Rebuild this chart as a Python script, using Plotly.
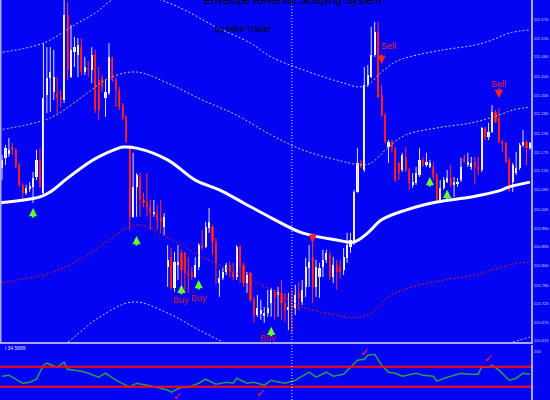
import plotly.graph_objects as go

# ---------------- candle data (price) ----------------
open_ = [
111.129,111.159,111.171,111.191,111.183,111.138,111.079,111.055,111.067,111.073,
111.102,111.153,111.055,111.346,111.396,111.355,111.352,111.340,111.331,111.583,
111.399,111.474,111.465,111.488,111.414,111.426,111.420,111.465,111.390,111.396,
111.337,111.352,111.456,111.390,111.361,111.316,111.281,111.191,110.984,111.073,
111.102,111.034,111.028,111.013,110.992,110.995,110.981,110.954,110.835,110.865,
110.773,110.841,110.877,110.877,110.817,110.820,110.805,110.835,110.900,110.894,
110.951,110.954,110.909,110.787,110.802,110.820,110.841,110.820,110.805,110.894,
110.841,110.787,110.817,110.737,110.692,110.695,110.689,110.698,110.728,110.761,
110.752,110.758,110.728,110.707,110.722,110.713,110.758,110.731,110.776,110.832,
110.865,110.776,110.805,110.835,110.856,110.871,110.805,110.841,110.835,110.826,
110.862,110.894,110.906,111.058,111.144,111.123,111.376,111.399,111.465,111.533,
111.346,111.286,111.191,111.206,111.188,111.144,111.123,111.162,111.123,111.079,
111.084,111.108,111.153,111.138,111.132,111.132,111.108,111.034,111.070,111.087,
111.099,111.079,111.084,111.093,111.159,111.138,111.132,111.147,111.132,111.123,
111.248,111.221,111.236,111.295,111.278,111.206,111.203,111.153,111.087,111.114,
111.129,111.197,111.206,111.188]
high = [
111.168,111.197,111.218,111.203,111.188,111.144,111.084,111.079,111.087,111.117,
111.183,111.188,111.500,111.488,111.488,111.480,111.399,111.361,111.640,111.622,
111.554,111.518,111.515,111.515,111.459,111.448,111.488,111.480,111.429,111.405,
111.390,111.500,111.459,111.399,111.370,111.322,111.286,111.197,111.174,111.114,
111.114,111.055,111.114,111.034,111.034,111.019,111.034,110.995,110.900,110.891,
110.880,110.900,110.886,110.880,110.865,110.835,110.865,110.906,110.945,110.969,
111.010,110.960,110.921,110.826,110.832,110.847,110.850,110.847,110.900,110.900,
110.847,110.820,110.820,110.746,110.752,110.737,110.716,110.767,110.773,110.767,
110.776,110.796,110.758,110.758,110.767,110.782,110.790,110.796,110.862,110.900,
110.924,110.856,110.847,110.886,110.886,110.880,110.865,110.856,110.856,110.891,
110.936,110.936,111.064,111.188,111.153,111.429,111.435,111.548,111.563,111.563,
111.376,111.292,111.212,111.212,111.191,111.147,111.174,111.191,111.129,111.114,
111.132,111.188,111.162,111.174,111.153,111.147,111.114,111.093,111.102,111.123,
111.138,111.102,111.099,111.159,111.168,111.174,111.162,111.162,111.162,111.251,
111.251,111.263,111.316,111.301,111.307,111.212,111.206,111.159,111.144,111.177,
111.203,111.242,111.212,111.206]
low = [
111.093,111.138,111.162,111.168,111.129,111.073,111.034,111.049,111.058,111.025,
111.093,111.070,111.049,111.292,111.295,111.331,111.292,111.310,111.322,111.390,
111.396,111.429,111.399,111.405,111.405,111.399,111.381,111.292,111.272,111.355,
111.281,111.346,111.384,111.310,111.301,111.272,111.203,110.945,110.981,110.984,
110.984,111.013,110.984,110.945,110.984,110.945,110.936,110.930,110.776,110.767,
110.761,110.796,110.767,110.758,110.758,110.796,110.802,110.826,110.886,110.891,
110.936,110.871,110.782,110.746,110.796,110.811,110.805,110.796,110.796,110.787,
110.776,110.758,110.731,110.669,110.687,110.678,110.669,110.687,110.687,110.678,
110.687,110.678,110.672,110.648,110.639,110.692,110.707,110.722,110.746,110.776,
110.728,110.746,110.743,110.805,110.847,110.796,110.787,110.767,110.802,110.811,
110.847,110.877,110.900,111.055,111.129,111.117,111.370,111.396,111.459,111.337,
111.281,111.203,111.144,111.174,111.087,111.093,111.117,111.117,111.064,111.070,
111.079,111.102,111.132,111.132,111.129,111.093,111.028,111.028,111.064,111.084,
111.073,111.043,111.073,111.087,111.144,111.132,111.123,111.079,111.108,111.117,
111.212,111.212,111.233,111.263,111.203,111.177,111.144,111.058,111.058,111.108,
111.123,111.191,111.138,111.183]
close = [
111.153,111.188,111.183,111.183,111.132,111.079,111.055,111.070,111.076,111.099,
111.153,111.073,111.337,111.396,111.414,111.399,111.337,111.331,111.583,111.420,
111.480,111.488,111.494,111.414,111.429,111.420,111.465,111.301,111.301,111.370,
111.355,111.459,111.390,111.361,111.310,111.278,111.206,110.984,111.073,111.108,
111.034,111.025,111.013,110.995,110.998,110.975,110.969,110.984,110.856,110.773,
110.850,110.850,110.826,110.817,110.811,110.805,110.841,110.900,110.891,110.954,
110.969,110.909,110.847,110.802,110.820,110.841,110.820,110.805,110.894,110.835,
110.787,110.811,110.737,110.692,110.713,110.707,110.698,110.713,110.767,110.743,
110.761,110.728,110.707,110.716,110.713,110.752,110.743,110.767,110.835,110.850,
110.776,110.835,110.832,110.856,110.877,110.805,110.841,110.820,110.820,110.865,
110.900,110.915,111.058,111.144,111.132,111.376,111.405,111.465,111.533,111.340,
111.286,111.206,111.206,111.188,111.093,111.114,111.168,111.123,111.084,111.087,
111.114,111.153,111.138,111.147,111.144,111.102,111.034,111.070,111.093,111.099,
111.079,111.087,111.087,111.132,111.147,111.147,111.144,111.132,111.123,111.248,
111.221,111.236,111.295,111.266,111.206,111.203,111.147,111.064,111.138,111.129,
111.197,111.206,111.188,111.203]

# ---------------- moving average & envelopes (bar index, price) ----------------
ma_idx = [-1, 11, 14, 19, 25, 28, 33, 35, 39, 48, 56, 63, 70, 78, 87, 97, 102, 106, 110, 117, 126, 136, 144, 147, 153]
ma_val = [111.025, 111.043, 111.058, 111.099, 111.144, 111.162, 111.185, 111.191, 111.188, 111.153, 111.093,
          111.064, 111.025, 110.981, 110.936, 110.915, 110.909, 110.936, 110.975, 111.004, 111.028, 111.043,
          111.061, 111.073, 111.087]

up_in_idx = [-1, 14, 24, 31, 39, 48, 58, 68, 78, 87, 97, 104, 107, 112, 117, 126, 136, 144, 148, 153]
up_in_val = [111.242, 111.278, 111.346, 111.396, 111.414, 111.381, 111.331, 111.286, 111.227, 111.183,
             111.153, 111.138, 111.144, 111.191, 111.227, 111.248, 111.263, 111.286, 111.301, 111.310]

up_out_idx = [-1, 12, 21, 27, 32, 39, 46, 53, 62, 72, 78, 89, 99, 103, 106, 110, 114, 118, 128, 137, 142, 147, 153]
up_out_val = [111.471, 111.500, 111.554, 111.589, 111.628, 111.646, 111.628, 111.598, 111.548, 111.500,
              111.459, 111.414, 111.381, 111.370, 111.376, 111.414, 111.444, 111.459, 111.480, 111.494,
              111.509, 111.530, 111.539]

lo_in_idx = [-1, 14, 24, 31, 39, 48, 58, 68, 78, 87, 97, 102, 107, 112, 118, 128, 137, 147, 153]
lo_in_val = [110.787, 110.817, 110.865, 110.915, 110.960, 110.921, 110.865, 110.817, 110.767, 110.716,
             110.692, 110.684, 110.698, 110.746, 110.773, 110.796, 110.811, 110.841, 110.850]

lo_out_idx = [-1, 17, 19, 28, 38, 48, 57, 64, 78, 90, 103, 112, 120, 135, 146, 153]
lo_out_val = [110.559, 110.603, 110.612, 110.684, 110.731, 110.698, 110.648, 110.612, 110.535, 110.485,
              110.455, 110.499, 110.544, 110.583, 110.606, 110.627]

# ---------------- signals ----------------
buy_arrow_idx = [9, 39, 52, 57, 78, 124, 129]
buy_arrow_price = [111.010, 110.927, 110.782, 110.796, 110.657, 111.102, 111.064]
sell_arrow_idx = [90, 110, 144]
sell_arrow_price = [110.906, 111.438, 111.337]
buy_label_idx = [52, 57, 77]
buy_label_price = [110.737, 110.743, 110.624]
sell_label_idx = [112, 144]
sell_label_price = [111.491, 111.379]

# ---------------- oscillator ----------------
osc_idx = [0, 2, 6, 8, 10, 12, 13, 16, 18, 19, 23, 25, 28, 30, 33, 37, 39, 42, 45, 48, 49, 52, 54, 57, 59,
           62, 65, 67, 68, 71, 73, 76, 78, 79, 82, 85, 89, 91, 94, 96, 99, 101, 103, 105, 106, 108, 110,
           112, 114, 116, 120, 122, 125, 126, 129, 133, 135, 138, 139, 141, 142, 144, 147, 149, 151, 153]
osc_val = [51, 53, 37, 39, 45, 73, 77, 69, 79, 65, 61, 57, 49, 57, 43, 29, 37, 33, 29, 23, 19, 29, 29, 37, 45,
           35, 39, 37, 47, 37, 39, 33, 43, 41, 37, 43, 59, 49, 59, 51, 55, 69, 83, 85, 93, 95, 73,
           59, 57, 51, 57, 53, 51, 41, 49, 57, 55, 55, 69, 69, 73, 63, 43, 47, 57, 55]
osc_levels = [70, 30]
check_idx = [51, 75, 105, 141]
check_val = [11, 17, 99, 87]
osc_label = "i 34.5689"

tick_labels = ["111.625", "111.570", "111.515", "111.460", "111.400", "111.345", "111.290", "111.230",
               "111.175", "111.120", "111.065", "111.005", "110.950", "110.895", "110.840", "110.780",
               "110.725", "110.670", "110.615"]

BG = "#0404F4"
LAV = "#a8a8ff"
RED = "#ff0a0a"
FONT = "Arial, Liberation Sans, sans-serif"

fig = go.Figure()

# candles: wicks + bodies
bx, by, rx, ry = [], [], [], []
bull_x, bull_h, bull_b, bear_x, bear_h, bear_b = [], [], [], [], [], []
for i, (o, h, l, c) in enumerate(zip(open_, high, low, close)):
    if c >= o:
        bx += [i, i, None]; by += [l, h, None]
        bull_x.append(i); bull_h.append(max(c - o, 0.002)); bull_b.append(o)
    else:
        rx += [i, i, None]; ry += [l, h, None]
        bear_x.append(i); bear_h.append(o - c); bear_b.append(c)

fig.add_trace(go.Scatter(x=bx, y=by, mode="lines", line=dict(color="#dcdcff", width=1), hoverinfo="skip"))
fig.add_trace(go.Scatter(x=rx, y=ry, mode="lines", line=dict(color="#ff3030", width=1), hoverinfo="skip"))
fig.add_trace(go.Bar(x=bull_x, y=bull_h, base=bull_b, width=0.62, marker=dict(color="white", line=dict(width=0))))
fig.add_trace(go.Bar(x=bear_x, y=bear_h, base=bear_b, width=0.62, marker=dict(color=RED, line=dict(width=0))))

# envelopes
fig.add_trace(go.Scatter(x=up_out_idx, y=up_out_val, mode="lines",
                         line=dict(color="#c4c4ec", width=1, dash="2px,2px", shape="spline")))
fig.add_trace(go.Scatter(x=up_in_idx, y=up_in_val, mode="lines",
                         line=dict(color="#c8c878", width=1, dash="2px,2px", shape="spline")))
fig.add_trace(go.Scatter(x=lo_in_idx, y=lo_in_val, mode="lines",
                         line=dict(color="#d01818", width=1, dash="2px,2px", shape="spline")))
fig.add_trace(go.Scatter(x=lo_out_idx, y=lo_out_val, mode="lines",
                         line=dict(color="#c4c4ec", width=1, dash="2px,2px", shape="spline")))
fig.add_trace(go.Scatter(x=ma_idx, y=ma_val, mode="lines",
                         line=dict(color="white", width=3, shape="spline")))

# oscillator
fig.add_trace(go.Scatter(x=osc_idx, y=osc_val, mode="lines", yaxis="y2",
                         line=dict(color="#2a9a50", width=1.5)))

shapes = []
for lv in osc_levels:
    shapes.append(dict(type="line", xref="paper", yref="y2", x0=0, x1=531 / 550, y0=lv, y1=lv,
                       line=dict(color=RED, width=2)))
shapes.append(dict(type="line", xref="x", yref="paper", x0=84, x1=84, y0=0, y1=1,
                   line=dict(color="#e8e8ff", width=1, dash="1px,2px")))
shapes.append(dict(type="line", xref="paper", yref="paper", x0=0.001, x1=0.001, y0=1 - 342 / 400, y1=1,
                   line=dict(color=LAV, width=2)))

ann = []
for i, p in zip(buy_arrow_idx, buy_arrow_price):
    ann.append(dict(x=i, y=p, xref="x", yref="y", text="", showarrow=True, ax=0, ay=11,
                    arrowhead=2, arrowsize=0.75, arrowwidth=2.2, arrowcolor="#66ff22"))
for i, p in zip(sell_arrow_idx, sell_arrow_price):
    ann.append(dict(x=i, y=p, xref="x", yref="y", text="", showarrow=True, ax=0, ay=-11,
                    arrowhead=2, arrowsize=0.75, arrowwidth=2.2, arrowcolor="#ff2020"))
for i, p in zip(buy_label_idx, buy_label_price):
    ann.append(dict(x=i, y=p, xref="x", yref="y", text="Buy", showarrow=False,
                    font=dict(family=FONT, size=9, color="#d01c1c")))
for i, p in zip(sell_label_idx, sell_label_price):
    ann.append(dict(x=i, y=p, xref="x", yref="y", text="Sell", showarrow=False,
                    font=dict(family=FONT, size=9, color="#e82a2a")))
for i, v in zip(check_idx, check_val):
    ann.append(dict(x=i, y=v, xref="x", yref="y2", text="✓", showarrow=False,
                    font=dict(family="DejaVu Sans", size=11, color="#ff1a1a")))
ann.append(dict(x=292 / 550, y=1, xref="paper", yref="paper", text="Envelope Reversal Scalping System",
                showarrow=False, xanchor="center", yanchor="middle",
                font=dict(family=FONT, size=11, color="black")))
ann.append(dict(x=243 / 550, y=1 - 29 / 400, xref="paper", yref="paper", text="by Mike Trader",
                showarrow=False, xanchor="center", yanchor="middle",
                font=dict(family=FONT, size=8.5, color="black")))
ann.append(dict(x=3 / 550, y=1 - 348 / 400, xref="paper", yref="paper", text=osc_label,
                showarrow=False, xanchor="left", yanchor="middle",
                font=dict(family=FONT, size=5, color="#e0e0ff")))

fig.update_layout(
    template="none",
    width=550, height=400,
    margin=dict(l=0, r=0, t=0, b=0),
    paper_bgcolor=BG, plot_bgcolor=BG,
    showlegend=False, barmode="overlay", bargap=0,
    font=dict(family=FONT),
    xaxis=dict(domain=[0, 531 / 550], range=[-0.58, 153.3], showgrid=False, zeroline=False,
               showticklabels=False, ticks="", showline=True, linecolor=LAV, linewidth=2,
               anchor="y", automargin=False),
    yaxis=dict(domain=[1 - 342 / 400, 1], range=[110.612, 111.628], side="right",
               tickvals=[float(t) for t in tick_labels], ticktext=tick_labels,
               tickfont=dict(size=4.2, color="#d0d0ff", family=FONT), ticks="",
               ticklabelstandoff=0,
               showgrid=False, zeroline=False, showline=True, linecolor=LAV, linewidth=2,
               automargin=False),
    yaxis2=dict(domain=[0, 1 - 345 / 400], range=[3.4, 113.4], side="right", anchor="x",
                tickvals=[100], ticktext=["100"], tickfont=dict(size=4.2, color="#d0d0ff", family=FONT),
                ticks="", ticklabelstandoff=0, showgrid=False, zeroline=False, showline=True,
                linecolor=LAV, linewidth=2, automargin=False),
    shapes=shapes,
    annotations=ann,
)

fig.write_html("out.html", config={"displayModeBar": False},
               post_script="document.body.style.margin='0';document.body.style.overflow='hidden';")
